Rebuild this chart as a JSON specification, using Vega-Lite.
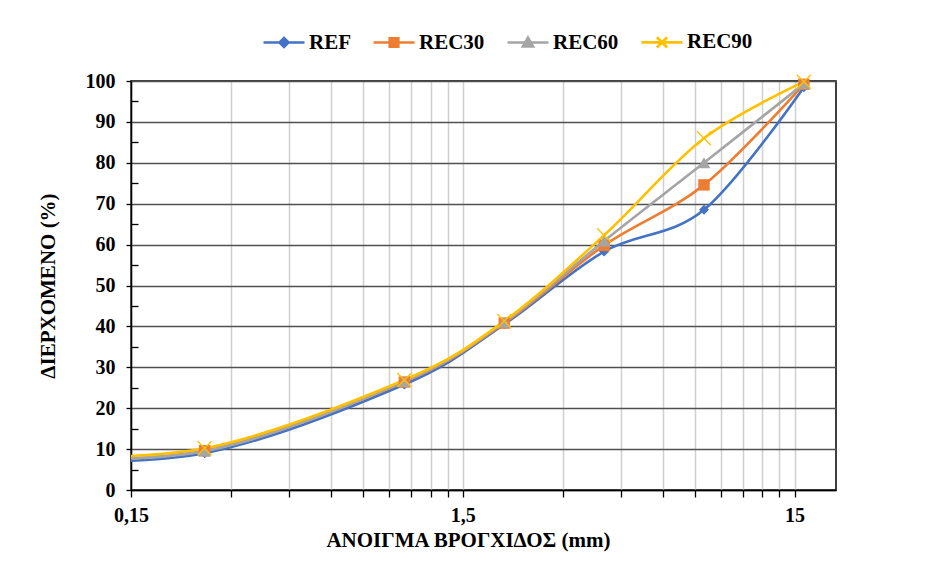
{
  "$schema": "https://vega.github.io/schema/vega-lite/v6.json",
  "width": 705,
  "height": 409,
  "autosize": {"type": "none"},
  "padding": {"left": 131, "top": 81, "right": 89, "bottom": 82},
  "background": "white",
  "config": {
    "view": {"stroke": "black", "strokeWidth": 1.5},
    "font": "Liberation Serif",
    "axis": {
      "labelFont": "Liberation Serif", "labelFontWeight": "bold", "labelFontSize": 20, "labelColor": "black",
      "titleFont": "Liberation Serif", "titleFontWeight": "bold", "titleFontSize": 21, "titleColor": "black",
      "domainColor": "black", "domainWidth": 1.5, "tickColor": "black", "tickWidth": 1.3
    },
    "legend": {
      "labelFont": "Liberation Serif", "labelFontWeight": "bold", "labelFontSize": 21, "labelColor": "black"
    }
  },
  "datasets": {
    "sieve": [
      {"series": "REF", "size": 0.063, "pass": 7.0},
      {"series": "REF", "size": 0.25, "pass": 9.0},
      {"series": "REF", "size": 1, "pass": 25.8},
      {"series": "REF", "size": 2, "pass": 40.5},
      {"series": "REF", "size": 4, "pass": 58.3},
      {"series": "REF", "size": 8, "pass": 68.5},
      {"series": "REF", "size": 16, "pass": 98.5},
      {"series": "REC30", "size": 0.063, "pass": 7.6},
      {"series": "REC30", "size": 0.25, "pass": 9.6},
      {"series": "REC30", "size": 1, "pass": 26.4},
      {"series": "REC30", "size": 2, "pass": 40.8},
      {"series": "REC30", "size": 4, "pass": 59.8},
      {"series": "REC30", "size": 8, "pass": 74.6},
      {"series": "REC30", "size": 16, "pass": 99.2},
      {"series": "REC60", "size": 0.063, "pass": 7.7},
      {"series": "REC60", "size": 0.25, "pass": 9.5},
      {"series": "REC60", "size": 1, "pass": 26.5},
      {"series": "REC60", "size": 2, "pass": 41.0},
      {"series": "REC60", "size": 4, "pass": 60.9},
      {"series": "REC60", "size": 8, "pass": 80.0},
      {"series": "REC60", "size": 16, "pass": 99.3},
      {"series": "REC90", "size": 0.063, "pass": 8.0},
      {"series": "REC90", "size": 0.25, "pass": 10.2},
      {"series": "REC90", "size": 1, "pass": 26.9},
      {"series": "REC90", "size": 2, "pass": 41.3},
      {"series": "REC90", "size": 4, "pass": 62.3},
      {"series": "REC90", "size": 8, "pass": 86.0},
      {"series": "REC90", "size": 16, "pass": 99.8}
    ]
  },
  "data": {"name": "sieve"},
  "layer": [
    {
      "mark": {"type": "line", "interpolate": "cardinal", "strokeWidth": 2.6, "clip": true},
      "encoding": {
        "x": {
          "field": "size", "type": "quantitative",
          "scale": {"type": "log", "domain": [0.15, 20], "nice": false},
          "axis": {
            "values": [0.15, 0.3, 0.45, 0.6, 0.75, 0.9, 1.05, 1.2, 1.35, 1.5, 3, 4.5, 6, 7.5, 9, 10.5, 12, 13.5, 15],
            "labelExpr": "datum.value === 0.15 ? '0,15' : datum.value === 1.5 ? '1,5' : datum.value === 15 ? '15' : ''",
            "labelOverlap": false, "labelBound": false, "labelFlush": false,
            "grid": true, "gridColor": "#d0d0d0", "gridWidth": 1.5,
            "tickSize": 7, "labelPadding": 8,
            "title": "ΑΝΟΙΓΜΑ  ΒΡΟΓΧΙΔΟΣ (mm)", "titlePadding": 4, "titleX": 337
          }
        },
        "y": {
          "field": "pass", "type": "quantitative",
          "scale": {"domain": [0, 100], "nice": false},
          "axis": {
            "values": [0, 10, 20, 30, 40, 50, 60, 70, 80, 90, 100],
            "grid": true, "gridColor": "#505050", "gridWidth": 1.3,
            "tickSize": 5, "labelPadding": 11,
            "title": "ΔΙΕΡΧΟΜΕΝΟ  (%)", "titlePadding": 27
          }
        },
        "color": {
          "field": "series", "type": "nominal",
          "scale": {"domain": ["REF", "REC30", "REC60", "REC90"], "range": ["#4472C4", "#ED7D31", "#A5A5A5", "#FFC000"]},
          "legend": {
            "title": null, "orient": "none", "legendX": 131, "legendY": -61,
            "direction": "horizontal", "symbolSize": 1681, "symbolStrokeWidth": 2.6,
            "labelOffset": 3, "columnPadding": 17, "padding": 0,
            "encode": {
              "symbols": {
                "update": {
                  "shape": {"signal": "datum.value === 'REF' ? 'M-1,0H1M0,-0.22L0.22,0L0,0.22L-0.22,0Z' : datum.value === 'REC30' ? 'M-1,0H1M-0.21,-0.21H0.21V0.21H-0.21Z' : datum.value === 'REC60' ? 'M-1,0H1M0,-0.24L0.25,0.19L-0.25,0.19Z' : 'M-1,0H1M-0.25,-0.25L0.25,0.25M0.25,-0.25L-0.25,0.25'"},
                  "fill": {"signal": "datum.value === 'REC90' ? 'transparent' : scale('color', datum.value)"},
                  "stroke": {"signal": "scale('color', datum.value)"},
                  "strokeWidth": {"value": 2.6},
                  "opacity": {"value": 1}
                }
              }
            }
          }
        }
      }
    },
    {
      "transform": [{"filter": "datum.series !== 'REC90' && datum.size >= 0.15"}],
      "mark": {"type": "point", "filled": true, "opacity": 1},
      "encoding": {
        "x": {"field": "size", "type": "quantitative"},
        "y": {"field": "pass", "type": "quantitative", "axis": null},
        "color": {"field": "series", "type": "nominal"},
        "shape": {"field": "series", "type": "nominal", "scale": {"domain": ["REF", "REC30", "REC60"], "range": ["diamond", "square", "triangle-up"]}, "legend": null},
        "size": {"field": "series", "type": "ordinal", "scale": {"domain": ["REF", "REC30", "REC60"], "range": [100, 160, 170]}, "legend": null}
      }
    },
    {
      "transform": [{"filter": "datum.series === 'REC90' && datum.size >= 0.15"}],
      "mark": {"type": "point", "filled": false, "opacity": 1, "shape": "M-1,-1L1,1M1,-1L-1,1", "size": 196, "strokeWidth": 1.3},
      "encoding": {
        "x": {"field": "size", "type": "quantitative"},
        "y": {
          "field": "pass", "type": "quantitative",
          "axis": {"values": [5, 15, 25, 35, 45, 55, 65, 75, 85, 95], "orient": "left", "labels": false, "grid": false, "domain": false, "tickSize": -7, "title": null}
        },
        "color": {"field": "series", "type": "nominal"}
      }
    }
  ],
  "resolve": {"axis": {"y": "independent"}}
}
